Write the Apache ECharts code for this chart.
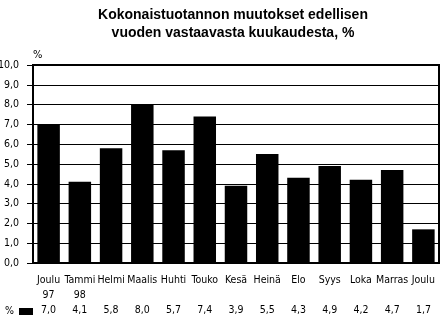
<!DOCTYPE html>
<html><head><meta charset="utf-8">
<script src="https://cdn.jsdelivr.net/npm/echarts@6/dist/echarts.min.js"></script>
<style>html,body{margin:0;padding:0;background:#fff}#c{width:441px;height:321px}</style>
</head><body><div id="c"></div>
<script>
const titleLines = ['Kokonaistuotannon muutokset edellisen', 'vuoden vastaavasta kuukaudesta, %'];
const months = ['Joulu','Tammi','Helmi','Maalis','Huhti','Touko','Kesä','Heinä','Elo','Syys','Loka','Marras','Joulu'];
const years = ['97','98','','','','','','','','','','',''];
const values = [7.0,4.1,5.8,8.0,5.7,7.4,3.9,5.5,4.3,4.9,4.2,4.7,1.7];
const seriesName = '%';
const yTicks = {min:0, max:10, interval:1};
const narrow = "'Liberation Sans Narrow','Arial Narrow','DejaVu Sans Condensed','Liberation Sans',Arial,sans-serif";
const fmt = v => v.toFixed(1).replace('.', ',');

const chart = echarts.init(document.getElementById('c'), null, {renderer:'canvas'});
chart.setOption({
  animation:false,
  backgroundColor:'#fff',
  title:{text:titleLines.join('\n'), left:233, top:6, textAlign:'center', padding:0,
    textStyle:{fontFamily:'Liberation Sans, Arial, sans-serif', fontWeight:'bold', fontSize:14, lineHeight:18, color:'#000'}},
  legend:{data:[seriesName], left:5, top:306, align:'right', itemWidth:14, itemHeight:7, itemGap:1, padding:0,
    textStyle:{fontFamily:narrow, fontSize:10.5, color:'#000', padding:[0,0,0,0]}, icon:'rect'},
  grid:{left:33, right:2, top:65, bottom:58, containLabel:false, outerBoundsMode:'none',
    show:true, borderColor:'#000', borderWidth:2, backgroundColor:'transparent'},
  xAxis:{type:'category', data:months,
    axisLine:{lineStyle:{color:'#000', width:1}},
    axisTick:{alignWithLabel:true, length:4, lineStyle:{color:'#000'}},
    axisLabel:{interval:0, color:'#000', fontFamily:narrow, fontSize:10.5, lineHeight:15, margin:10, hideOverlap:false,
      formatter:(v,i)=> v + '\n' + (years[i]||' ') + '\n' + fmt(values[i])}},
  yAxis:{type:'value', min:yTicks.min, max:yTicks.max, interval:yTicks.interval,
    name:'%', nameLocation:'end', nameGap:4, nameTextStyle:{fontFamily:narrow, fontSize:11, color:'#000', align:'left', padding:[0,0,0,0]},
    axisLine:{show:true, lineStyle:{color:'#000', width:1}},
    axisTick:{show:true, length:6, lineStyle:{color:'#000'}},
    splitLine:{lineStyle:{color:'#000', width:1}},
    axisLabel:{color:'#000', fontFamily:narrow, fontSize:10.5, margin:14, formatter:v=>fmt(v)}},
  series:[{name:seriesName, type:'bar', data:values, barCategoryGap:'28%', itemStyle:{color:'#000'}}]
});
</script></body></html>
